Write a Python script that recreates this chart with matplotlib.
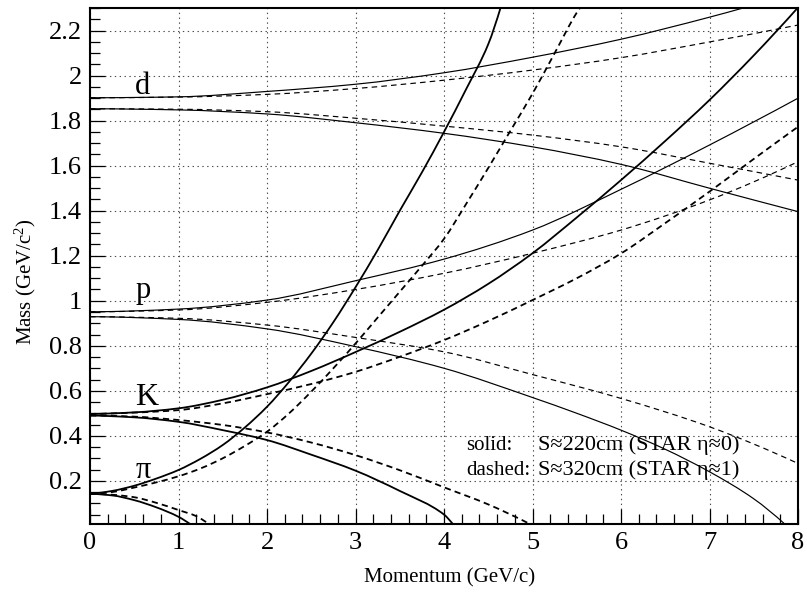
import matplotlib
matplotlib.use("Agg")
import matplotlib.pyplot as plt
from matplotlib.path import Path
from matplotlib.patches import PathPatch
from matplotlib.ticker import MultipleLocator, FixedLocator, FuncFormatter

plt.rcParams['font.family'] = ['Liberation Serif', 'DejaVu Serif']
plt.rcParams['mathtext.fontset'] = 'custom'
plt.rcParams['mathtext.rm'] = 'Liberation Serif'
plt.rcParams['mathtext.it'] = 'Liberation Serif:italic'
plt.rcParams['lines.scale_dashes'] = False

# ---------------- data ----------------
# deuteron
d_up_solid_p = [0, 1, 2, 3, 4, 5, 6, 7, 7.4]
d_up_solid_m = [1.902, 1.906, 1.930, 1.962, 2.013, 2.082, 2.162, 2.260, 2.303]
d_up_dash_p = [0, 1, 2, 3, 4, 5, 6, 7, 8]
d_up_dash_m = [1.902, 1.905, 1.917, 1.943, 1.980, 2.025, 2.080, 2.150, 2.225]
d_lo_solid_p = [0, 1, 2, 3, 4, 5, 6, 7, 8]
d_lo_solid_m = [1.853, 1.848, 1.830, 1.791, 1.744, 1.684, 1.606, 1.500, 1.396]
d_lo_dash_p = [0, 1, 2, 3, 4, 5, 6, 7, 8]
d_lo_dash_m = [1.853, 1.851, 1.840, 1.811, 1.776, 1.736, 1.684, 1.611, 1.536]

# proton
p_up_solid_p = [0, 1, 2, 3, 4, 5, 6, 7, 8]
p_up_solid_m = [0.951, 0.963, 1.003, 1.089, 1.185, 1.314, 1.495, 1.692, 1.900]
p_up_dash_p = [0, 1, 2, 3, 4, 5, 6, 7, 8]
p_up_dash_m = [0.951, 0.959, 0.993, 1.050, 1.122, 1.211, 1.314, 1.448, 1.618]
p_lo_solid_p = [0, 1, 2, 3, 4, 5, 5.5, 6, 6.5, 7, 7.5, 7.85]
p_lo_solid_m = [0.929, 0.917, 0.875, 0.796, 0.700, 0.570, 0.500, 0.425, 0.340, 0.240,
                0.120, 0.008]
p_lo_dash_p = [0, 1, 2, 3, 4, 5, 6, 7, 8]
p_lo_dash_m = [0.929, 0.922, 0.892, 0.837, 0.773, 0.672, 0.566, 0.440, 0.277]

# kaon
k_up_solid_p = [0, 0.5, 1, 1.5, 2, 2.5, 3, 3.5, 4, 4.5, 5, 5.5, 6, 6.5, 7, 7.5, 8]
k_up_solid_m = [0.497, 0.504, 0.522, 0.560, 0.615, 0.688, 0.772, 0.862, 0.960, 1.075,
                1.211, 1.370, 1.536, 1.710, 1.892, 2.090, 2.303]
k_up_dash_p = [0, 0.5, 1, 1.5, 2, 2.5, 3, 3.5, 4, 4.5, 5, 5.5, 6, 6.5, 7, 7.5, 8]
k_up_dash_m = [0.497, 0.503, 0.514, 0.544, 0.585, 0.630, 0.684, 0.751, 0.825, 0.910,
               1.003, 1.100, 1.210, 1.345, 1.485, 1.630, 1.773]
k_lo_solid_p = [0, 0.5, 1, 1.5, 2, 2.5, 3, 3.5, 4, 4.1]
k_lo_solid_m = [0.490, 0.482, 0.462, 0.425, 0.381, 0.316, 0.245, 0.155, 0.050, 0.008]
k_lo_dash_p = [0, 0.5, 1, 1.5, 2, 2.5, 3, 3.5, 4, 4.5, 4.97]
k_lo_dash_m = [0.490, 0.485, 0.470, 0.448, 0.415, 0.370, 0.314, 0.247, 0.171, 0.095, 0.008]

# pion
pi_up_solid_p = [0, 0.25, 0.5, 0.75, 1, 1.25, 1.5, 1.75, 2, 2.25, 2.5, 2.75, 3, 3.25,
                 3.5, 3.75, 4, 4.25, 4.5, 4.64]
pi_up_solid_m = [0.142, 0.155, 0.178, 0.210, 0.248, 0.298, 0.359, 0.437, 0.529, 0.640,
                 0.765, 0.905, 1.060, 1.225, 1.400, 1.570, 1.750, 1.940, 2.140, 2.303]
pi_up_dash_p = [0, 0.25, 0.5, 0.75, 1, 1.25, 1.5, 1.75, 2, 2.25, 2.5, 2.75, 3, 3.25,
                3.5, 3.75, 4, 4.25, 4.5, 4.75, 5, 5.25, 5.5, 5.54]
pi_up_dash_m = [0.142, 0.150, 0.170, 0.193, 0.220, 0.255, 0.300, 0.355, 0.418, 0.500,
                0.596, 0.700, 0.810, 0.925, 1.040, 1.155, 1.275, 1.430, 1.590, 1.755,
                1.920, 2.100, 2.280, 2.303]
pi_lo_solid_p = [0, 0.25, 0.5, 0.75, 1, 1.13]
pi_lo_solid_m = [0.142, 0.135, 0.114, 0.082, 0.040, 0.008]
pi_lo_dash_p = [0, 0.25, 0.5, 0.75, 1, 1.2, 1.34]
pi_lo_dash_m = [0.142, 0.138, 0.127, 0.102, 0.070, 0.043, 0.008]

x_ticks = [0, 1, 2, 3, 4, 5, 6, 7, 8]
y_ticks = [0.2, 0.4, 0.6, 0.8, 1.0, 1.2, 1.4, 1.6, 1.8, 2.0, 2.2]

particle_labels = ["d", "p", "K", "\u03c0"]
label_p = [0.51, 0.51, 0.51, 0.51]
label_m = [1.919, 1.010, 0.536, 0.212]

legend_keys = ["solid:", "dashed:"]
legend_vals = ["S\u2248220cm (STAR \u03b7\u22480)", "S\u2248320cm (STAR \u03b7\u22481)"]


def smooth_path(xs, ys):
    """Monotone cubic (Fritsch-Carlson) Bezier path through the read points."""
    n = len(xs)
    h = [xs[i + 1] - xs[i] for i in range(n - 1)]
    d = [(ys[i + 1] - ys[i]) / h[i] for i in range(n - 1)]
    t = [0.0] * n
    for i in range(1, n - 1):
        if d[i - 1] * d[i] <= 0:
            t[i] = 0.0
        else:
            w1 = 2 * h[i] + h[i - 1]
            w2 = h[i] + 2 * h[i - 1]
            t[i] = (w1 + w2) / (w1 / d[i - 1] + w2 / d[i])

    def end_slope(h0, h1, d0, d1):
        s = ((2 * h0 + h1) * d0 - h0 * d1) / (h0 + h1)
        if s * d0 <= 0:
            return 0.0
        if d0 * d1 <= 0 and abs(s) > abs(3 * d0):
            return 3 * d0
        return s

    if n > 2:
        t[0] = end_slope(h[0], h[1], d[0], d[1])
        t[-1] = end_slope(h[-1], h[-2], d[-1], d[-2])
    else:
        t[0] = t[-1] = d[0]
    verts = [(xs[0], ys[0])]
    codes = [Path.MOVETO]
    for i in range(n - 1):
        verts += [(xs[i] + h[i] / 3, ys[i] + t[i] * h[i] / 3),
                  (xs[i + 1] - h[i] / 3, ys[i + 1] - t[i + 1] * h[i] / 3),
                  (xs[i + 1], ys[i + 1])]
        codes += [Path.CURVE4] * 3
    return Path(verts, codes)


# ---------------- figure ----------------
W, H = 807, 593
fig = plt.figure(figsize=(W / 100, H / 100), dpi=100)
ax = fig.add_axes([90 / W, 69 / H, 708 / W, 516.5 / H])
ax.set_xlim(0, 8)
ax.set_ylim(0.008, 2.303)

thick, thin = 1.3, 0.85
dash_thick = (0, (4.5, 3))
dash_thin = (0, (4, 3))

curves = [
    (d_up_solid_p, d_up_solid_m, '-', thin),
    (d_up_dash_p, d_up_dash_m, dash_thin, thin),
    (d_lo_solid_p, d_lo_solid_m, '-', thin),
    (d_lo_dash_p, d_lo_dash_m, dash_thin, thin),
    (p_up_solid_p, p_up_solid_m, '-', thin),
    (p_up_dash_p, p_up_dash_m, dash_thin, thin),
    (p_lo_solid_p, p_lo_solid_m, '-', thin),
    (p_lo_dash_p, p_lo_dash_m, dash_thin, thin),
    (k_up_solid_p, k_up_solid_m, '-', thick),
    (k_up_dash_p, k_up_dash_m, dash_thick, thick),
    (k_lo_solid_p, k_lo_solid_m, '-', thick),
    (k_lo_dash_p, k_lo_dash_m, dash_thick, thick),
    (pi_up_solid_p, pi_up_solid_m, '-', thick),
    (pi_up_dash_p, pi_up_dash_m, dash_thick, thick),
    (pi_lo_solid_p, pi_lo_solid_m, '-', thick),
    (pi_lo_dash_p, pi_lo_dash_m, dash_thick, thick),
]
for px, my, ls, lw in curves:
    patch = PathPatch(smooth_path(px, my), fill=False, edgecolor='black',
                      linestyle=ls, linewidth=lw, zorder=3, capstyle='butt',
                      joinstyle='round', transform=ax.transData)
    ax.add_patch(patch)

# ticks and grid
ax.xaxis.set_major_locator(FixedLocator(x_ticks))
ax.xaxis.set_minor_locator(MultipleLocator(0.2))
ax.yaxis.set_major_locator(FixedLocator(y_ticks))
ax.yaxis.set_minor_locator(MultipleLocator(0.05))
ax.yaxis.set_major_formatter(FuncFormatter(lambda v, _: f"{v:g}"))
ax.xaxis.set_major_formatter(FuncFormatter(lambda v, _: f"{v:g}"))
ax.tick_params(which='both', direction='in', top=False, right=False, width=0.9,
               color='black')
ax.tick_params(which='major', length=11, labelsize=19, pad=6)
ax.tick_params(which='minor', length=7)
ax.grid(True, which='major', linestyle=(0, (1, 2.5)), color='0.3', linewidth=0.8, zorder=1)
for s in ax.spines.values():
    s.set_linewidth(1.5)

# particle labels
for t, xp, ym in zip(particle_labels, label_p, label_m):
    ax.text(xp, ym, t, fontsize=23 if t == "K" else 22, ha='left', va='baseline', zorder=4)

# legend text
ax.text(4.25, 0.336, legend_keys[0], fontsize=15, ha='left', va='baseline')
ax.text(5.06, 0.336, legend_vals[0], fontsize=16, ha='left', va='baseline')
ax.text(4.25, 0.225, legend_keys[1], fontsize=15, ha='left', va='baseline')
ax.text(5.06, 0.225, legend_vals[1], fontsize=16, ha='left', va='baseline')

# axis titles
fig.text(450 / W, 1 - 578 / H, "Momentum (GeV/c)", fontsize=15, ha='center', va='center')
fig.text(25 / W, 1 - 282 / H, "Mass (GeV/c$^{2}$)", fontsize=15, rotation=90,
         ha='center', va='center')

fig.savefig("out.png", dpi=100)
